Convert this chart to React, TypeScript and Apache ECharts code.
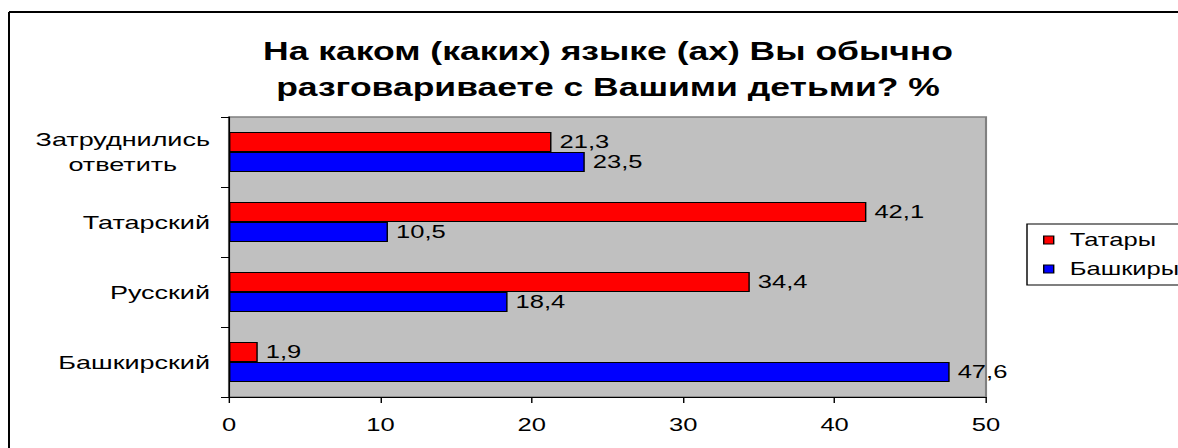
import React, { useEffect, useRef } from "react";
import * as echarts from "echarts";

const categories = ["Башкирский", "Русский", "Татарский", "Затруднились\nответить"];
const tatars = [1.9, 34.4, 42.1, 21.3];
const bashkirs = [47.6, 18.4, 10.5, 23.5];
const xTicks = { min: 0, max: 50, interval: 10 };
const titleText = "На каком (каких) языке (ах) Вы обычно\nразговариваете с Вашими детьми? %";

const FONT = "'Liberation Sans', Arial, sans-serif";
// The reference's text is stretched horizontally; the whole chart is drawn narrower and stretched.
const S = 1.42;
const W = 830;
const H = 448;
const px = (x: number) => x / S;

export default function App() {
  const ref = useRef<HTMLDivElement>(null);
  useEffect(() => {
    if (!ref.current) return;
    const chart = echarts.init(ref.current, null, { renderer: "svg" });
    const fmt = (p: any) => String(p.value).replace(".", ",");
    chart.setOption({
      animation: false,
      backgroundColor: "#ffffff",
      textStyle: { fontFamily: FONT },
      graphic: [
        {
          type: "line",
          z: -10,
          shape: { x1: px(9), y1: 12, x2: W + 10, y2: 12 },
          style: { stroke: "#000", lineWidth: 2 },
        },
        {
          type: "line",
          z: -10,
          shape: { x1: px(9), y1: 12, x2: px(9), y2: H + 10 },
          style: { stroke: "#000", lineWidth: 1.4 },
        },
        {
          type: "text",
          x: px(608),
          y: 33,
          style: {
            text: titleText,
            textAlign: "center",
            textVerticalAlign: "top",
            font: `bold 25px ${FONT}`,
            lineHeight: 36,
            fill: "#000",
          },
        },
      ],
      legend: {
        orient: "vertical",
        left: px(1027),
        top: 224,
        data: ["Татары", "Башкиры"],
        icon: "rect",
        itemWidth: px(10),
        itemHeight: 8,
        itemGap: 11,
        padding: [7, 10, 7, px(16)],
        borderColor: "#000",
        borderWidth: 1,
        backgroundColor: "#fff",
        itemStyle: { borderColor: "#000", borderWidth: 1 },
        textStyle: { fontSize: 18, color: "#000", fontFamily: FONT, padding: [0, 0, 0, px(16) - 5] },
      },
      grid: {
        left: px(229),
        right: W - px(986),
        top: 117,
        bottom: 51,
        show: true,
        backgroundColor: "#c0c0c0",
        borderColor: "#808080",
        borderWidth: 1.5,
      },
      xAxis: {
        type: "value",
        min: xTicks.min,
        max: xTicks.max,
        interval: xTicks.interval,
        splitLine: { show: false },
        axisLine: { show: true, lineStyle: { color: "#000", width: 1 } },
        axisTick: { show: true, length: 6, lineStyle: { color: "#000" } },
        axisLabel: { fontSize: 18, color: "#000", margin: 19, fontFamily: FONT },
      },
      yAxis: {
        type: "category",
        data: categories,
        axisLine: { show: true, lineStyle: { color: "#000", width: 1 } },
        axisTick: { show: true, length: px(8), lineStyle: { color: "#000" } },
        axisLabel: {
          fontSize: 19,
          color: "#000",
          margin: px(19),
          fontFamily: FONT,
          formatter: (v: string) =>
            v.includes("\n") ? v.split("\n").map((s) => `{c|${s}}`).join("\n") : v,
          rich: { c: { align: "center", fontSize: 19, fontFamily: FONT, color: "#000", lineHeight: 25 } },
        },
      },
      series: [
        {
          name: "Татары",
          type: "bar",
          data: tatars,
          barWidth: 20,
          barGap: "0%",
          itemStyle: { color: "#ff0000", borderColor: "#000", borderWidth: 1 },
          label: { show: true, position: "right", distance: px(8), fontSize: 18, color: "#000", fontFamily: FONT, formatter: fmt },
        },
        {
          name: "Башкиры",
          type: "bar",
          data: bashkirs,
          barWidth: 20,
          barGap: "0%",
          itemStyle: { color: "#0000ff", borderColor: "#000", borderWidth: 1 },
          label: { show: true, position: "right", distance: px(8), fontSize: 18, color: "#000", fontFamily: FONT, formatter: fmt },
        },
      ],
    });
    return () => chart.dispose();
  }, []);
  return (
    <div
      style={{ position: "fixed", left: 0, top: 0, width: 1178, height: H, overflow: "hidden", background: "#fff" }}
    >
      <div
        ref={ref}
        style={{ width: W, height: H, transform: `scaleX(${S})`, transformOrigin: "0 0" }}
      />
    </div>
  );
}
